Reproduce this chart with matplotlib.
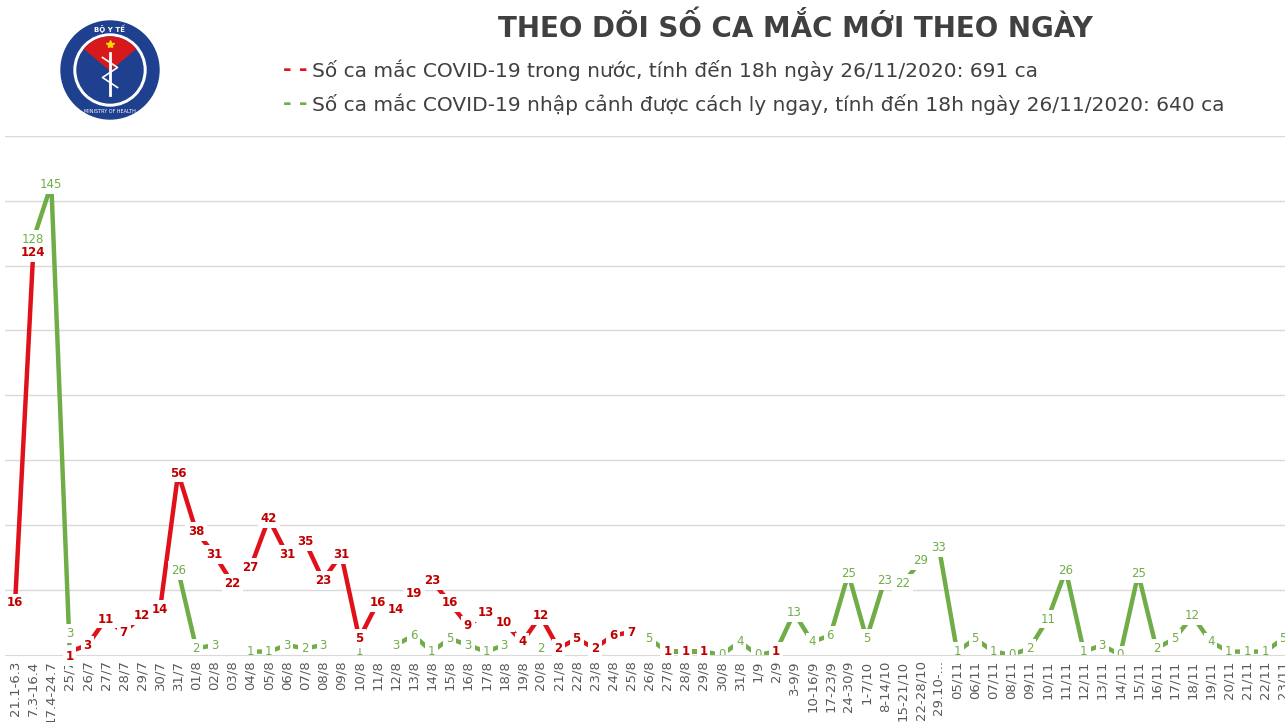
import numpy as np
import matplotlib.pyplot as plt
from matplotlib.patches import Circle, Wedge

nan = np.nan
categories = ["21.1-6.3","7.3-16.4","17.4-24.7","25/7","26/7","27/7","28/7","29/7","30/7","31/7",
 "01/8","02/8","03/8","04/8","05/8","06/8","07/8","08/8","09/8","10/8",
 "11/8","12/8","13/8","14/8","15/8","16/8","17/8","18/8","19/8","20/8",
 "21/8","22/8","23/8","24/8","25/8","26/8","27/8","28/8","29/8","30/8",
 "31/8","1/9","2/9","3-9/9","10-16/9","17-23/9","24-30/9","1-7/10","8-14/10","15-21/10",
 "22-28/10","29.10-...","05/11","06/11","07/11","08/11","09/11","10/11","11/11","12/11",
 "13/11","14/11","15/11","16/11","17/11","18/11","19/11","20/11","21/11","22/11","23/11"]
domestic = [16,124,nan,1,3,11,7,12,14,56,
 38,31,22,27,42,31,35,23,31,5,
 16,14,19,23,16,9,13,10,4,12,
 2,5,2,6,7,nan,1,1,1,nan,
 nan,nan,1,nan,nan,nan,nan,nan,nan,nan,
 nan,nan,nan,nan,nan,nan,nan,nan,nan,nan,
 nan,nan,nan,nan,nan,nan,nan,nan,nan,nan,nan]
imported = [nan,128,145,3,nan,nan,nan,nan,nan,26,
 2,3,nan,1,1,3,2,3,nan,1,
 nan,3,6,1,5,3,1,3,nan,2,
 nan,nan,nan,nan,nan,5,1,1,1,0,
 4,0,1,13,4,6,25,5,23,22,
 29,33,1,5,1,0,2,11,26,1,
 3,0,25,2,5,12,4,1,1,1,5]

RED = "#e0111b"
GREEN = "#70ad47"
fig = plt.figure(figsize=(12.85, 7.22), dpi=100)
ax = fig.add_axes([0.004, 0.093, 0.996, 0.719])
x = np.arange(len(categories))
ax.plot(x, domestic, color=RED, lw=3.2, solid_capstyle="butt", zorder=2)
ax.plot(x, imported, color=GREEN, lw=3.2, solid_capstyle="butt", zorder=2)
for xi, v in zip(x, imported):
    if not np.isnan(v):
        dy = 3.5 if xi == 3 else 0
        ax.text(xi, v + dy, f"{int(v)}", color=GREEN, fontsize=8.5,
                ha="center", va="center", zorder=4, clip_on=True,
                bbox=dict(facecolor="white", edgecolor="none", pad=2))
for xi, v in zip(x, domestic):
    if not np.isnan(v):
        dy = -1.5 if xi == 3 else 0
        ax.text(xi, v + dy, f"{int(v)}", color="#c00000", fontsize=8.5, fontweight="bold",
                ha="center", va="center", zorder=5, clip_on=False,
                bbox=dict(facecolor="white", edgecolor="none", pad=2))
ax.set_xlim(-0.55, 70.1)
ax.set_ylim(0, 160)
ax.set_yticks(range(20, 161, 20))
ax.yaxis.grid(True, color="#d9d9d9", lw=1)
ax.tick_params(axis="y", length=0, labelleft=False)
ax.set_xticks(x)
ax.set_xticklabels(categories, rotation=90, fontsize=9.5, color="#595959")
ax.tick_params(axis="x", length=0, pad=4)
for s in ["top", "right", "left"]:
    ax.spines[s].set_visible(False)
ax.spines["bottom"].set_color("#d9d9d9")
ax.set_axisbelow(True)

fig.text(0.619, 0.962, "THEO DÕI SỐ CA MẮC MỚI THEO NGÀY", ha="center", va="center",
         fontsize=20, fontweight="bold", color="#404040")
fig.text(0.22, 0.903, "- -", color=RED, fontsize=15, fontweight="bold", va="center")
fig.text(0.243, 0.903, "Số ca mắc COVID-19 trong nước, tính đến 18h ngày 26/11/2020: 691 ca",
         fontsize=14.5, color="#404040", va="center")
fig.text(0.22, 0.856, "- -", color=GREEN, fontsize=15, fontweight="bold", va="center")
fig.text(0.243, 0.856, "Số ca mắc COVID-19 nhập cảnh được cách ly ngay, tính đến 18h ngày 26/11/2020: 640 ca",
         fontsize=14.5, color="#404040", va="center")

# logo
lax = fig.add_axes([110/1285 - 50/1285, 1 - 120/722, 100/1285, 100/722])
lax.set_xlim(-1, 1); lax.set_ylim(-1, 1); lax.set_aspect("equal"); lax.axis("off")
lax.add_patch(Circle((0, 0), 0.98, color="#1f3f8f"))
lax.add_patch(Circle((0, 0), 0.72, color="white"))
lax.add_patch(Circle((0, 0), 0.66, color="#1f3f8f"))
lax.add_patch(Wedge((0, 0), 0.66, 40, 140, color="#d7191c"))
lax.plot([0], [0.52], marker="*", color="#ffd700", ms=6)
lax.text(0, 0.82, "BỘ Y TẾ", color="white", fontsize=5, ha="center", va="center", fontweight="bold")
lax.text(0, -0.83, "MINISTRY OF HEALTH", color="white", fontsize=3.5, ha="center", va="center")
lax.plot([0, 0], [-0.5, 0.35], color="white", lw=2)
lax.plot([-0.15, 0.15, -0.15, 0.15], [0.25, 0.05, -0.15, -0.35], color="white", lw=1.2)

fig.savefig("out.png", dpi=100)
